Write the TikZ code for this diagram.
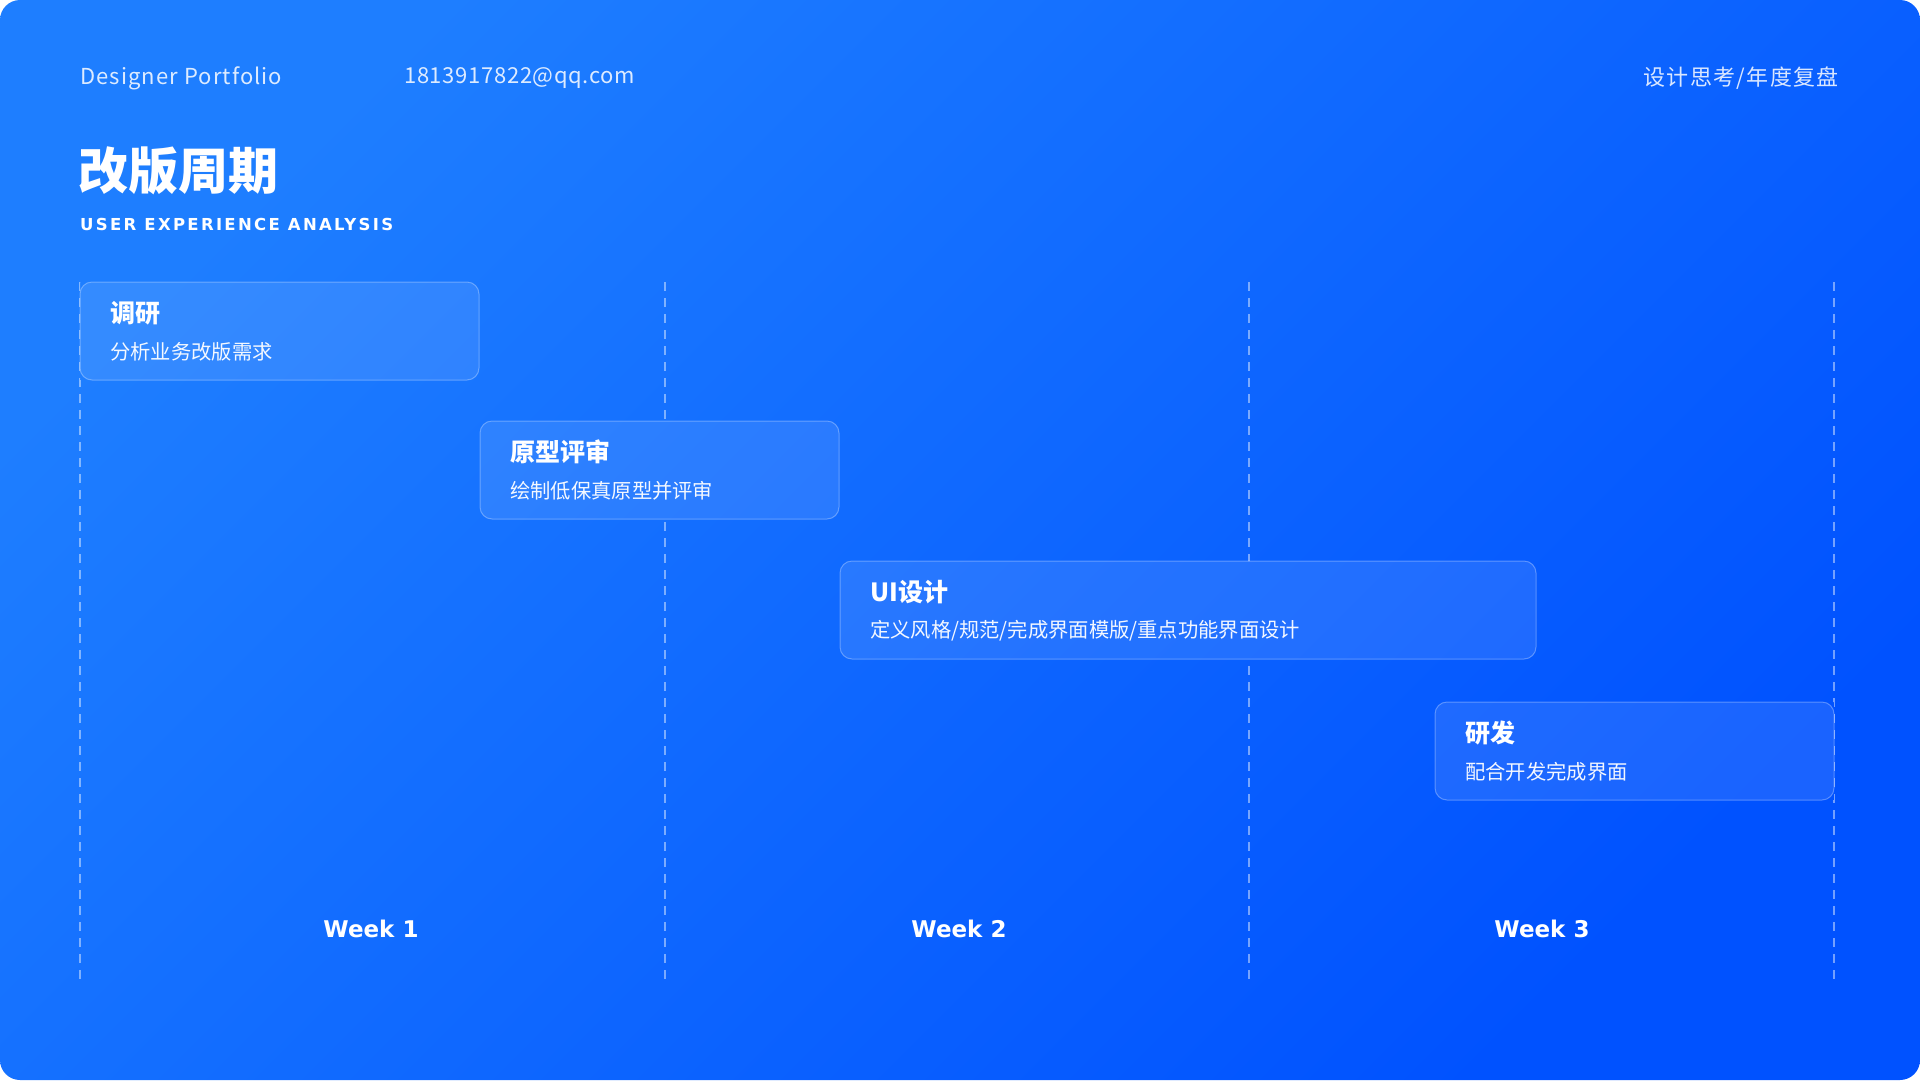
\documentclass[tikz,border=0pt]{standalone}
\usepackage{fontspec}
\setmainfont{Noto Sans CJK SC}
\newfontfamily\brandfont[LetterSpace=5]{Noto Sans CJK SC}
\newfontfamily\mailfont[LetterSpace=3]{Noto Sans CJK SC}
\newfontfamily\topicfont[LetterSpace=6]{Noto Sans CJK SC}
\newfontfamily\widefont{DejaVu Sans}
\newfontfamily\widespaced[LetterSpace=14]{DejaVu Sans}
\usetikzlibrary{positioning}

\definecolor{bgtop}{RGB}{30,126,255}
\definecolor{bgbottom}{RGB}{0,82,255}

\begin{document}
\begin{tikzpicture}[x=1pt,y=-1pt,
                head text/.style={text=white,text opacity=0.85,inner sep=0pt,font=\fontsize{22}{26}\selectfont},
                week line/.style={draw=white,draw opacity=0.45,line width=1.5pt,dash pattern=on 9pt off 7pt},
                task box/.style={draw=white,draw opacity=0.3,fill=white,fill opacity=0.1,line width=1pt,
                                 rounded corners=12pt,anchor=north west,inner sep=0pt,outer sep=0pt,minimum height=98pt},
                task title/.style={anchor=west,inner sep=0pt,text=white,font=\bfseries\fontsize{25}{30}\selectfont},
                task text/.style={anchor=west,inner sep=0pt,text=white,text opacity=0.95,font=\fontsize{20.3}{24}\selectfont},
                week label/.style={text=white,inner sep=0pt,font=\widefont\bfseries\fontsize{23}{28}\selectfont}]
                \useasboundingbox (0,0) rectangle (1920,1080);
                \fill[white] (0,0) rectangle (1920,1080);
                \shade[top color=bgtop,bottom color=bgbottom,shading angle=45,rounded corners=20pt]
                (0,0) rectangle (1920,1080);

                % header
                \node[head text,anchor=west] (brand) at (80,78) {\brandfont Designer Portfolio};
                \node[head text,anchor=west] (mail) at (404,78) {\mailfont 1813917822@qq.com};
                \node[head text,anchor=east] (topic) at (1839,78) {\topicfont 设计思考/年度复盘};
                \node[anchor=west,inner sep=0pt,text=white,font=\bfseries\fontsize{50}{56}\selectfont] (title) at (78,171) {改版周期};
                \node[anchor=west,inner sep=0pt,text=white,font=\widespaced\bfseries\fontsize{16.5}{20}\selectfont] (subtitle) at (80,224) {USER EXPERIENCE ANALYSIS};

                % tasks
                \node[task box,minimum width=399pt] (b1) at (80,282) {};
                \node[task box,minimum width=359pt] (b2) at (480,421) {};
                \node[task box,minimum width=696pt] (b3) at (840,561) {};
                \node[task box,minimum width=399pt] (b4) at (1435,702) {};

                \node[task title] (t1) at ([shift={(30,31)}]b1.north west) {调研};
                \node[task text] (s1) at ([shift={(30,70)}]b1.north west) {分析业务改版需求};
                \node[task title] (t2) at ([shift={(30,31)}]b2.north west) {原型评审};
                \node[task text] (s2) at ([shift={(30,70)}]b2.north west) {绘制低保真原型并评审};
                \node[task title] (t3) at ([shift={(30,31)}]b3.north west) {UI设计};
                \node[task text] (s3) at ([shift={(30,70)}]b3.north west) {定义风格/规范/完成界面模版/重点功能界面设计};
                \node[task title] (t4) at ([shift={(30,31)}]b4.north west) {研发};
                \node[task text] (s4) at ([shift={(30,70)}]b4.north west) {配合开发完成界面};

                % week grid, hidden under the boxes
                \coordinate (l0) at (80,282);
                \coordinate (l1) at (665,282);
                \coordinate (l2) at (1249,282);
                \coordinate (l3) at (1834,282);
                \begin{scope}[even odd rule]
                \clip (0,0) rectangle (1920,1080)
                (b1.south west) rectangle (b1.north east)
                (b2.south west) rectangle (b2.north east)
                (b3.south west) rectangle (b3.north east)
                (b4.south west) rectangle (b4.north east);
                \foreach \l in {l0,l1,l2,l3}
                \draw[week line] (\l) -- ++(0,698);
                \end{scope}

                \node[week label] (w1) at (371,929) {Week 1};
                \node[week label] (w2) at (959,929) {Week 2};
                \node[week label] (w3) at (1542,929) {Week 3};
                \end{tikzpicture}
\end{document}
